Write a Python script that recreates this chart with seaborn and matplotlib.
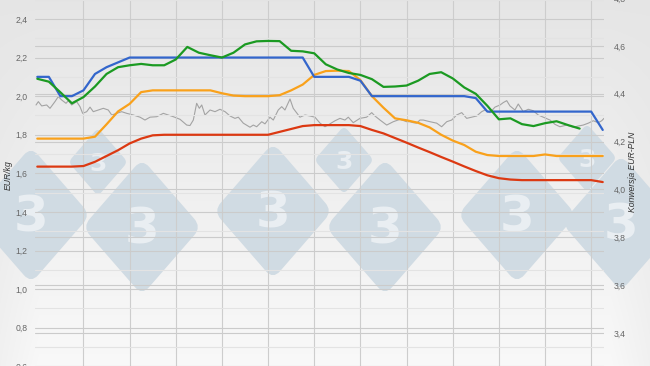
import numpy as np
import pandas as pd
import matplotlib
matplotlib.use("Agg")
import matplotlib.pyplot as plt
import seaborn as sns
from matplotlib.patches import FancyBboxPatch
from matplotlib import transforms
from matplotlib.ticker import MultipleLocator, FixedLocator, FuncFormatter, NullFormatter

# ---------------- data ----------------
weeks = list(range(50))

blue = [2.10, 2.10, 2.00, 2.00, 2.03, 2.115, 2.15, 2.175,
        2.20, 2.20, 2.20, 2.20, 2.20, 2.20, 2.20, 2.20,
        2.20, 2.20, 2.20, 2.20, 2.20, 2.20, 2.20, 2.20,
        2.10, 2.10, 2.10, 2.10, 2.08,
        2.00, 2.00, 2.00, 2.00, 2.00, 2.00, 2.00, 2.00, 2.00,
        1.99,
        1.92, 1.92, 1.92, 1.92, 1.92, 1.92, 1.92, 1.92, 1.92, 1.92,
        1.825]

red = [1.635, 1.635, 1.635, 1.635, 1.638, 1.66, 1.69, 1.72, 1.755, 1.78,
       1.797, 1.80, 1.80, 1.80, 1.80, 1.80, 1.80, 1.80, 1.80, 1.80,
       1.80, 1.815, 1.83, 1.845, 1.85, 1.85, 1.85, 1.85, 1.845, 1.825,
       1.807, 1.783, 1.759, 1.734, 1.71, 1.685, 1.661, 1.636, 1.612, 1.59,
       1.575, 1.568, 1.565, 1.565, 1.565, 1.565, 1.565, 1.565, 1.565, 1.555]

orange = [1.78, 1.78, 1.78, 1.78, 1.78, 1.79, 1.854, 1.921, 1.96, 2.021,
          2.03, 2.03, 2.03, 2.03, 2.03, 2.03, 2.015, 2.003, 2.00, 2.00,
          2.00, 2.005, 2.03, 2.06, 2.11, 2.13, 2.132, 2.13, 2.083, 2.00,
          1.94, 1.885, 1.875, 1.862, 1.838, 1.80, 1.77, 1.747, 1.712, 1.695,
          1.69, 1.69, 1.69, 1.69, 1.698, 1.69, 1.69, 1.69, 1.69, 1.69]

green = [2.09, 2.075, 2.02, 1.963, 1.995, 2.05, 2.115, 2.15, 2.16, 2.167,
         2.16, 2.16, 2.19, 2.255, 2.225, 2.212, 2.20, 2.225, 2.268, 2.284,
         2.286, 2.285, 2.235, 2.232, 2.222, 2.165, 2.138, 2.12, 2.11, 2.088,
         2.048, 2.05, 2.055, 2.08, 2.115, 2.124, 2.092, 2.045, 2.012, 1.95,
         1.88, 1.885, 1.855, 1.845, 1.86, 1.87, 1.85, 1.832, np.nan, np.nan]

series_names = ["Seria 1", "Seria 2", "Seria 3", "Seria 4"]

gray_weeks = [-0.11, 0.09, 0.38, 0.81, 1.10, 1.53, 1.82, 2.11, 2.49, 2.69,
              2.98, 3.41, 3.70, 3.93, 4.28, 4.57, 4.85, 5.29, 5.72, 6.15,
              6.45, 6.88, 7.31, 7.75, 8.32, 8.90, 9.33, 9.77, 10.35, 10.92,
              11.35, 11.79, 12.37, 12.95, 13.23, 13.52, 13.81, 14.04, 14.25, 14.53,
              14.97, 15.40, 15.83, 16.27, 16.70, 17.13, 17.42, 17.85, 18.43, 18.72,
              19.01, 19.45, 19.73, 20.16, 20.45, 20.88, 21.18, 21.46, 21.90, 22.18,
              22.76, 23.20, 23.63, 24.06, 24.50, 24.93, 25.36, 25.80, 26.23, 26.66,
              26.95, 27.38, 27.96, 28.54, 28.98, 29.26, 29.70, 30.28, 30.85, 31.43,
              32.01, 32.30, 32.58, 32.88, 33.16, 33.45, 34.03, 34.61, 35.04, 35.48,
              35.91, 36.34, 36.78, 37.21, 37.64, 38.08, 38.51, 38.80, 39.23, 39.66,
              40.10, 40.38, 40.68, 40.96, 41.39, 41.68, 42.11, 42.55, 42.98, 43.41,
              43.85, 44.43, 44.86, 45.29, 45.88, 46.45, 46.88, 47.31, 47.75, 48.18,
              48.61, 48.91, 49.11]

gray_rate = [4.353, 4.367, 4.349, 4.353, 4.339, 4.367, 4.388, 4.374, 4.360, 4.371,
             4.353, 4.367, 4.346, 4.318, 4.325, 4.344, 4.325, 4.332, 4.339, 4.332,
             4.311, 4.318, 4.325, 4.318, 4.311, 4.302, 4.290, 4.302, 4.304, 4.318,
             4.311, 4.304, 4.293, 4.269, 4.267, 4.290, 4.360, 4.339, 4.353, 4.311,
             4.332, 4.325, 4.335, 4.325, 4.307, 4.297, 4.302, 4.277, 4.260, 4.269,
             4.262, 4.283, 4.274, 4.302, 4.290, 4.332, 4.346, 4.332, 4.378, 4.339,
             4.302, 4.311, 4.307, 4.302, 4.277, 4.262, 4.274, 4.287, 4.297, 4.290,
             4.302, 4.279, 4.297, 4.302, 4.321, 4.307, 4.290, 4.269, 4.283, 4.293,
             4.283, 4.283, 4.279, 4.277, 4.290, 4.290, 4.283, 4.277, 4.262, 4.283,
             4.290, 4.311, 4.321, 4.297, 4.302, 4.307, 4.325, 4.332, 4.321, 4.344,
             4.353, 4.363, 4.371, 4.349, 4.332, 4.357, 4.325, 4.335, 4.329, 4.311,
             4.302, 4.290, 4.272, 4.262, 4.269, 4.260, 4.265, 4.269, 4.277, 4.287,
             4.279, 4.287, 4.297]

left_ticks = [0.6, 0.8, 1.0, 1.2, 1.4, 1.6, 1.8, 2.0, 2.2, 2.4]
right_ticks = [3.4, 3.6, 3.8, 4.0, 4.2, 4.4, 4.6, 4.8]

left_label = "EUR/kg"
right_label = "Konwersja EUR-PLN"

# ---------------- style ----------------
sns.set_theme(style="white")
plt.rcParams["font.family"] = ["Liberation Sans", "DejaVu Sans"]

palette = {"Seria 1": "#dc3912", "Seria 2": "#f9a11b",
           "Seria 3": "#3366cc", "Seria 4": "#1b9a22"}

W, H = 650, 366
fig = plt.figure(figsize=(W / 100, H / 100), dpi=100)

# background gradient + watermark
bg = fig.add_axes([0, 0, 1, 1], zorder=0)
bg.set_xlim(0, W)
bg.set_ylim(H, 0)
bg.axis("off")
yy = np.linspace(0, 1, H)[:, None]
xx = np.linspace(0, 1, W)[None, :]
edge = np.clip(1 - np.minimum(xx, 1 - xx) / 0.06, 0, 1)
lum = 0.90 + 0.075 * yy - 0.03 * edge * yy
img = np.repeat(lum[:, :, None], 3, axis=2)
bg.imshow(img, extent=(0, W, H, 0), aspect="auto", zorder=0, interpolation="bilinear")

marks = [(31, 215, 84, 36), (142, 227, 84, 36), (273, 211, 84, 36),
         (385, 227, 84, 36), (517, 215, 84, 36), (621, 223, 84, 36),
         (98, 162, 42, 18), (344, 160, 42, 18), (587, 158, 42, 18)]
for cx, cy, s, fs in marks:
    tr = (transforms.Affine2D().rotate_deg_around(cx, cy, 45)
          .translate(-cx, -cy).scale(1.0, 1.15).translate(cx, cy) + bg.transData)
    p = FancyBboxPatch((cx - s / 2, cy - s / 2), s, s,
                       boxstyle=f"round,pad=0,rounding_size={s * 0.12}",
                       fc="#d0dbe3", ec="none", transform=tr, zorder=1)
    bg.add_patch(p)
    bg.text(cx, cy + 2, "3", fontsize=fs, fontweight="bold", color="#e9eef2",
            ha="center", va="center", zorder=2, family="DejaVu Sans")

# main axes (extends beyond the figure, as in the cropped reference)
ax = fig.add_axes([34.6 / W, -34 / H, 569.4 / W, 405 / H])
ax2 = ax.twinx()
ax.set_zorder(3)
ax2.set_zorder(2)
ax.patch.set_visible(False)
ax2.patch.set_visible(False)

df = pd.DataFrame({
    "tydzien": weeks * 4,
    "cena": red + orange + blue + green,
    "seria": sum([[n] * len(weeks) for n in series_names], []),
})

sns.lineplot(x=gray_weeks, y=gray_rate, ax=ax2, color="#a3a3a3",
             linewidth=0.8, sort=False, estimator=None)
sns.lineplot(data=df, x="tydzien", y="cena", hue="seria", palette=palette,
             ax=ax, legend=False, linewidth=1.6, estimator=None)

ax.set_xlim(-0.234, 49.11)
ax.set_ylim(0.426, 2.524)
ax2.set_ylim(3.119, 4.813)

fmt = FuncFormatter(lambda v, p: f"{v:.1f}".replace(".", ","))
ax.yaxis.set_major_locator(FixedLocator(left_ticks))
ax.yaxis.set_minor_locator(MultipleLocator(0.1))
ax.yaxis.set_major_formatter(fmt)
ax2.yaxis.set_major_locator(FixedLocator(right_ticks))
ax2.yaxis.set_major_formatter(fmt)
ax.set_xticks(list(range(4, 49, 4)))
ax.xaxis.set_major_formatter(NullFormatter())

ax.grid(which="major", axis="y", color="#cbcbcb", linewidth=0.8)
ax.grid(which="minor", axis="y", color="#e3e3e3", linewidth=0.8)
ax.grid(which="major", axis="x", color="#cdcdcd", linewidth=0.8)
ax2.grid(which="major", axis="y", color="#cbcbcb", linewidth=0.8)
ax2.grid(False, axis="x")
ax.set_axisbelow(True)

for a in (ax, ax2):
    for sp in a.spines.values():
        sp.set_visible(False)
    a.tick_params(axis="both", which="both", length=0)
ax.tick_params(axis="y", labelsize=6.2, labelcolor="#666666", pad=5)
ax2.tick_params(axis="y", labelsize=6.2, labelcolor="#666666", pad=7)
ax.set_xlabel("")

ax.set_ylabel(left_label, fontstyle="italic", fontsize=6.2, color="#333333")
ax.yaxis.set_label_coords(-0.039, 0.556)
ax2.set_ylabel(right_label, fontstyle="italic", fontsize=6.2, color="#333333",
               rotation=90)
ax2.yaxis.set_label_coords(1.043, 0.563)

fig.savefig("out.png", dpi=100)
